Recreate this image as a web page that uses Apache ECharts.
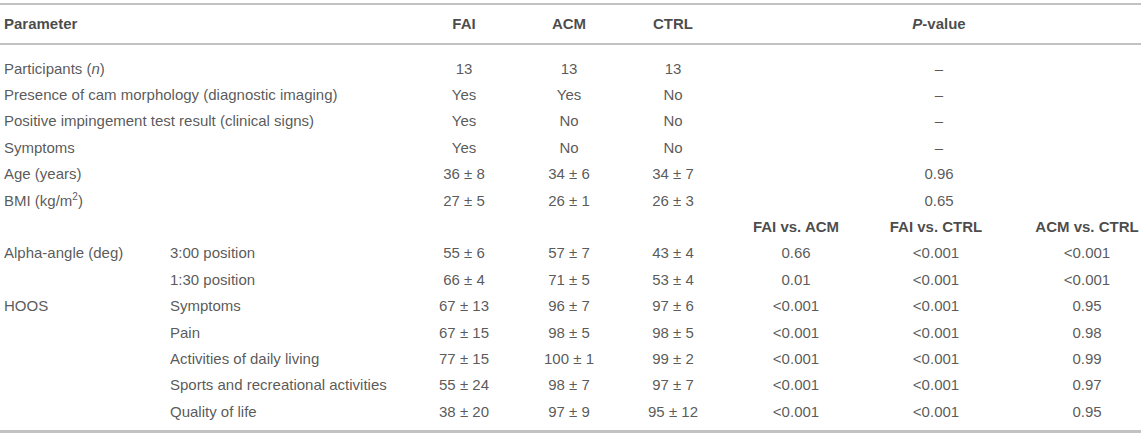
<!DOCTYPE html>
<html>
<head>
<meta charset="utf-8">
<script src="https://cdn.jsdelivr.net/npm/echarts@6/dist/echarts.min.js"></script>
<style>
  html, body { margin: 0; padding: 0; background: #fff; }
  #table { width: 1145px; height: 436px; }
</style>
</head>
<body>
<div id="table"></div>
<script>
// table content
var headers = ['Parameter', 'FAI', 'ACM', 'CTRL', '{ib|P}-value'];
var pairHeaders = ['FAI vs. ACM', 'FAI vs. CTRL', 'ACM vs. CTRL'];

var params = ['Participants ({i|n})', 'Presence of cam morphology (diagnostic imaging)',
    'Positive impingement test result (clinical signs)', 'Symptoms', 'Age (years)',
    'BMI (kg/m{s|2})', '', 'Alpha-angle (deg)', '', 'HOOS', '', '', '', ''];
var subParams = ['', '', '', '', '', '', '', '3:00 position', '1:30 position', 'Symptoms',
    'Pain', 'Activities of daily living', 'Sports and recreational activities', 'Quality of life'];
var fai = ['13', 'Yes', 'Yes', 'Yes', '36 ± 8', '27 ± 5', '', '55 ± 6', '66 ± 4',
    '67 ± 13', '67 ± 15', '77 ± 15', '55 ± 24', '38 ± 20'];
var acm = ['13', 'Yes', 'No', 'No', '34 ± 6', '26 ± 1', '', '57 ± 7', '71 ± 5',
    '96 ± 7', '98 ± 5', '100 ± 1', '98 ± 7', '97 ± 9'];
var ctrl = ['13', 'No', 'No', 'No', '34 ± 7', '26 ± 3', '', '43 ± 4', '53 ± 4',
    '97 ± 6', '98 ± 5', '99 ± 2', '97 ± 7', '95 ± 12'];
var pOverall = ['–', '–', '–', '–', '0.96', '0.65', '', '', '', '', '', '', '', ''];
var pFaiAcm = ['', '', '', '', '', '', '', '0.66', '0.01', '<0.001', '<0.001', '<0.001', '<0.001', '<0.001'];
var pFaiCtrl = ['', '', '', '', '', '', '', '<0.001', '<0.001', '<0.001', '<0.001', '<0.001', '<0.001', '<0.001'];
var pAcmCtrl = ['', '', '', '', '', '', '', '<0.001', '<0.001', '0.95', '0.98', '0.99', '0.97', '0.95'];

// layout (pixels)
var colX = { param: 4, sub: 170, fai: 464, acm: 569, ctrl: 673, p: 939, p1: 796, p2: 936, p3: 1087 };
var headerY = 23;
var pairHeaderRow = 6;
function rowY(i) { return 68 + 26.4 * i; }

var rich = {
    i: { fontStyle: 'italic' },
    ib: { fontStyle: 'italic', fontWeight: 'bold' },
    s: { fontSize: 10, padding: [0, 0, 8, 0] }
};

function cell(x, y, text, align, bold) {
    return {
        value: [x, y],
        name: text,
        label: {
            align: align,
            fontWeight: bold ? 'bold' : 'normal',
            color: bold ? '#1a1a1a' : '#2e2e2e'
        }
    };
}

var cells = [];
cells.push(cell(colX.param, headerY, headers[0], 'left', true));
cells.push(cell(colX.fai, headerY, headers[1], 'center', true));
cells.push(cell(colX.acm, headerY, headers[2], 'center', true));
cells.push(cell(colX.ctrl, headerY, headers[3], 'center', true));
cells.push(cell(colX.p, headerY, headers[4], 'center', true));
cells.push(cell(colX.p1, rowY(pairHeaderRow), pairHeaders[0], 'center', true));
cells.push(cell(colX.p2, rowY(pairHeaderRow), pairHeaders[1], 'center', true));
cells.push(cell(colX.p3, rowY(pairHeaderRow), pairHeaders[2], 'center', true));

for (var i = 0; i < params.length; i++) {
    var y = rowY(i);
    if (params[i]) cells.push(cell(colX.param, y, params[i], 'left'));
    if (subParams[i]) cells.push(cell(colX.sub, y, subParams[i], 'left'));
    if (fai[i]) cells.push(cell(colX.fai, y, fai[i], 'center'));
    if (acm[i]) cells.push(cell(colX.acm, y, acm[i], 'center'));
    if (ctrl[i]) cells.push(cell(colX.ctrl, y, ctrl[i], 'center'));
    if (pOverall[i]) cells.push(cell(colX.p, y, pOverall[i], 'center'));
    if (pFaiAcm[i]) cells.push(cell(colX.p1, y, pFaiAcm[i], 'center'));
    if (pFaiCtrl[i]) cells.push(cell(colX.p2, y, pFaiCtrl[i], 'center'));
    if (pAcmCtrl[i]) cells.push(cell(colX.p3, y, pAcmCtrl[i], 'center'));
}

var dom = document.getElementById('table');
var myChart = echarts.init(dom, null, { renderer: 'svg' });
myChart.setOption({
    animation: false,
    grid: { left: 0, right: 4, top: 0, bottom: 0 },
    xAxis: { type: 'value', min: 0, max: 1141, show: false },
    yAxis: { type: 'value', min: 0, max: 436, inverse: true, show: false },
    series: [
        {
            type: 'scatter',
            symbolSize: 0,
            silent: true,
            data: cells,
            label: {
                show: true,
                position: 'inside',
                verticalAlign: 'middle',
                fontFamily: 'Liberation Sans',
                fontSize: 15,
                formatter: function (p) { return p.name; },
                rich: rich
            },
            markLine: {
                silent: true,
                symbol: 'none',
                label: { show: false },
                lineStyle: { type: 'solid', color: '#c2c2c2', width: 2 },
                data: [
                    { yAxis: 4 },
                    { yAxis: 44 },
                    { yAxis: 431, lineStyle: { width: 3 } }
                ]
            }
        }
    ]
});
</script>
</body>
</html>
